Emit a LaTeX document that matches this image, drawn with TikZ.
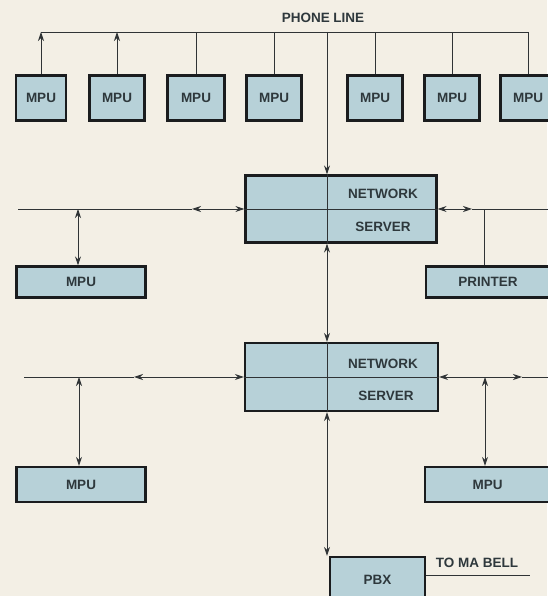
\documentclass[tikz,border=0pt]{standalone}
\usepackage{fontspec}
\setmainfont{Liberation Sans}
\usetikzlibrary{arrows.meta,calc}
\definecolor{paperCream}{HTML}{F3EFE5}
\definecolor{boxBlue}{HTML}{B7D1D8}
\definecolor{inkDark}{HTML}{1A1C1E}
\definecolor{textSlate}{HTML}{2E383C}
\definecolor{wireGray}{HTML}{2F3335}

\begin{document}
\begin{tikzpicture}[
    x=1pt, y=1pt,
    unitBox/.style={rectangle, draw=inkDark, line width=2.2pt, fill=boxBlue, font=\fontsize{13.5}{16}\selectfont\bfseries, text=textSlate, inner sep=0pt, minimum width=55pt, minimum height=45pt},
    wideBox/.style={unitBox, minimum width=129pt, minimum height=31pt},
    serverBox/.style={unitBox, minimum width=191pt, minimum height=67pt},
    tag/.style={font=\fontsize{13.5}{16}\selectfont\bfseries, text=textSlate, inner sep=0pt},
    wire/.style={draw=wireGray, line width=0.9pt},
    arrow/.style={wire, -{Stealth[length=9pt, width=6pt]}},
    biArrow/.style={wire, {Stealth[length=9pt, width=6pt]}-{Stealth[length=9pt, width=6pt]}}
]

\useasboundingbox (0,0) rectangle (547,596);
\fill[paperCream] (0,0) rectangle (547,596);

\node[tag] (phone) at (323,578) {PHONE LINE};
\coordinate (trunk) at (327,564);

\node[unitBox, minimum width=50pt] (mpu1) at (41,498) {MPU};
\node[unitBox] (mpu2) at (117,498) {MPU};
\node[unitBox, minimum width=57pt] (mpu3) at (196,498) {MPU};
\node[unitBox] (mpu4) at (274,498) {MPU};
\node[unitBox] (mpu5) at (375,498) {MPU};
\node[unitBox] (mpu6) at (452,498) {MPU};
\node[unitBox] (mpu7) at (528,498) {MPU};

\node[serverBox] (srv1) at (341,387) {};
\node[tag] (srv1a) at (383,402) {NETWORK};
\node[tag] (srv1b) at (383,369) {SERVER};

\node[wideBox] (mpuL1) at (81,314) {MPU};
\node[wideBox, minimum width=124pt] (prn) at (488,314) {PRINTER};

\node[serverBox, minimum width=193pt, minimum height=68pt] (srv2) at (341.5,219) {};
\node[tag] (srv2a) at (383,232) {NETWORK};
\node[tag] (srv2b) at (386,200) {SERVER};

\node[wideBox, minimum height=35pt] (mpuL2) at (81,111.5) {MPU};
\node[wideBox, minimum height=35pt, minimum width=125pt] (mpuR2) at (487.5,111.5) {MPU};

\node[unitBox, minimum width=95pt, minimum height=46pt] (pbx) at (377.5,16) {PBX};
\node[tag] (bell) at (477,33) {TO MA BELL};

\coordinate (bus1w) at (18,387);
\coordinate (tip1w) at (192,387);
\coordinate (tip1e) at (472,387);
\coordinate (bus1e) at (552,387);
\coordinate (bus2w) at (24,219);
\coordinate (tip2w) at (134,219);
\coordinate (tip2e) at (522,219);
\coordinate (bus2e) at (552,219);
\coordinate (bellEnd) at (530,21);

\draw[wire] (mpu1.north |- trunk) -- (mpu7.north |- trunk);
\draw[arrow] (mpu1.north) -- (mpu1.north |- trunk);
\draw[arrow] (mpu2.north) -- (mpu2.north |- trunk);
\draw[wire] (mpu3.north) -- (mpu3.north |- trunk);
\draw[wire] (mpu4.north) -- (mpu4.north |- trunk);
\draw[wire] (mpu5.north) -- (mpu5.north |- trunk);
\draw[wire] (mpu6.north) -- (mpu6.north |- trunk);
\draw[wire] (mpu7.north) -- (mpu7.north |- trunk);

\draw[arrow] (trunk) -- (trunk |- srv1.north);
\draw[wire] (trunk |- srv1.north) -- (trunk |- srv1.south);
\draw[biArrow] (trunk |- srv1.south) -- (trunk |- srv2.north);
\draw[wire] (trunk |- srv2.north) -- (trunk |- srv2.south);
\draw[biArrow] (trunk |- srv2.south) -- (trunk |- pbx.north);

\draw[wire] (bus1w) -- (tip1w);
\draw[biArrow] (tip1w) -- (srv1.west);
\draw[wire] (srv1.west) -- (srv1.east);
\draw[biArrow] (srv1.east) -- (tip1e);
\draw[wire] (tip1e) -- (bus1e);
\draw[biArrow] ([xshift=-3pt]mpuL1.north |- bus1w) -- ([xshift=-3pt]mpuL1.north);
\draw[wire] ([xshift=-4pt]prn.north) -- ([xshift=-4pt]prn.north |- bus1e);

\draw[wire] (bus2w) -- (tip2w);
\draw[biArrow] (tip2w) -- (srv2.west);
\draw[wire] (srv2.west) -- (srv2.east);
\draw[biArrow] (srv2.east) -- (tip2e);
\draw[wire] (tip2e) -- (bus2e);
\draw[biArrow] ([xshift=-2pt]mpuL2.north |- bus2w) -- ([xshift=-2pt]mpuL2.north);
\draw[biArrow] ([xshift=-2.5pt]mpuR2.north |- bus2e) -- ([xshift=-2.5pt]mpuR2.north);

\draw[wire] (pbx.east |- bellEnd) -- (bellEnd);

\end{tikzpicture}
\end{document}
